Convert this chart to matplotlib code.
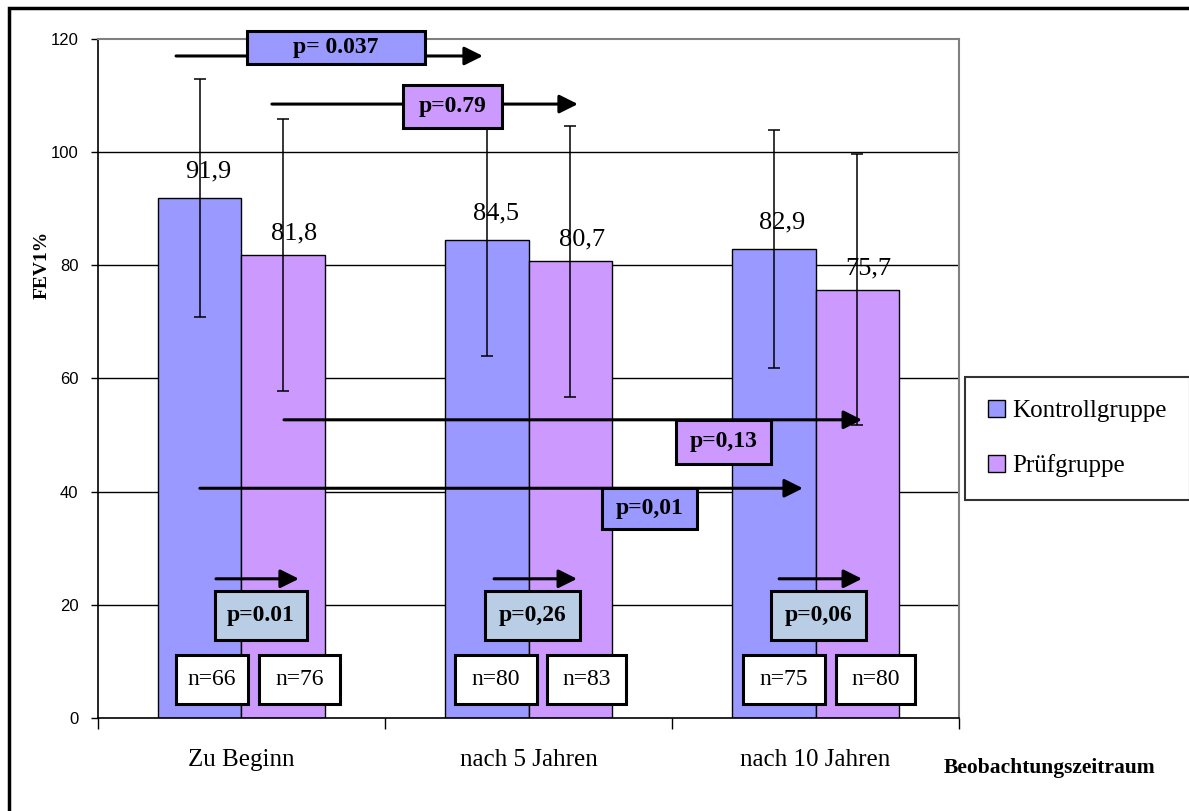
import numpy as np
import matplotlib
matplotlib.use("Agg")
import matplotlib.pyplot as plt
from matplotlib.patches import Rectangle, Patch

# ---------------- data ----------------
categories = ["Zu Beginn", "nach 5 Jahren", "nach 10 Jahren"]
kontroll = [91.9, 84.5, 82.9]
pruef = [81.8, 80.7, 75.7]
kontroll_sd = [21, 20.5, 21]
pruef_sd = [24, 24, 24]
kontroll_n = [66, 80, 75]
pruef_n = [76, 83, 80]
series_names = ["Kontrollgruppe", "Prüfgruppe"]

# p-values between groups at each time point
p_within = ["p=0.01", "p=0,26", "p=0,06"]
# p-values along the observation period
p_long = ["p= 0.037", "p=0.79", "p=0,13", "p=0,01"]

# ---------------- style ----------------
c_blue = "#9999FF"
c_purple = "#CC99FF"
c_grey = "#B9CDE5"
serif = "Liberation Serif"
plt.rcParams["font.family"] = serif

fig = plt.figure(figsize=(11.89, 8.11), dpi=100)
ax = fig.add_axes([0.0824, 0.1147, 0.7242, 0.8372])

x = np.arange(len(categories))
w = 0.29

# gridlines (not the top one, that is the grey frame)
for yv in [20, 40, 60, 80, 100]:
    ax.axhline(yv, color="black", lw=1.0, zorder=0)

ax.bar(x - w/2, kontroll, w, color=c_blue, edgecolor="black", lw=1, zorder=2)
ax.bar(x + w/2, pruef, w, color=c_purple, edgecolor="black", lw=1, zorder=2)
ax.errorbar(x - w/2, kontroll, yerr=kontroll_sd, fmt="none", ecolor="black",
            elinewidth=1.1, capsize=4, capthick=1.1, zorder=3)
ax.errorbar(x + w/2, pruef, yerr=pruef_sd, fmt="none", ecolor="black",
            elinewidth=1.1, capsize=4, capthick=1.1, zorder=3)

# value labels
for xi, v in zip(x - w/2, kontroll):
    ax.text(xi + 0.03, v + 4.7, f"{v:.1f}".replace(".", ","), ha="center",
            va="center", fontsize=19, zorder=4)
for xi, v in zip(x + w/2, pruef):
    ax.text(xi + 0.04, v + 3.8, f"{v:.1f}".replace(".", ","), ha="center",
            va="center", fontsize=19, zorder=4)


def arrow(x0, x1, y):
    ax.annotate("", xy=(x1, y), xytext=(x0, y),
                arrowprops=dict(arrowstyle="-|>", color="black", lw=2.2,
                                mutation_scale=28, shrinkA=0, shrinkB=0),
                annotation_clip=False, zorder=5)


def box(x0, x1, y0, y1, txt, fc, bold=True, fs=17):
    ax.add_patch(Rectangle((x0, y0), x1 - x0, y1 - y0, facecolor=fc,
                           edgecolor="black", lw=2.2, zorder=6, clip_on=False))
    ax.text((x0 + x1) / 2, (y0 + y1) / 2, txt, ha="center", va="center",
            fontsize=fs, fontweight="bold" if bold else "normal", zorder=7)


# long arrows over the observation period
long_arrow_x = [(-0.228, 0.841), (0.106, 1.172), (0.148, 2.162), (-0.145, 1.956)]
long_arrow_y = [117.0, 108.5, 52.7, 40.6]
long_box_x = [(0.019, 0.639), (0.563, 0.908), (1.514, 1.845), (1.256, 1.587)]
long_box_y = [(115.6, 121.4), (104.3, 111.9), (44.9, 52.7), (33.4, 40.6)]
long_colors = [c_blue, c_purple, c_purple, c_blue]
for (a0, a1), ay, (b0, b1), (y0, y1), t, c in zip(long_arrow_x, long_arrow_y,
                                                   long_box_x, long_box_y,
                                                   p_long, long_colors):
    arrow(a0, a1, ay)
    box(b0, b1, y0, y1, t, c)

# short arrows inside each time point
short_a0 = [-0.089, -0.12, -0.127]
short_a1 = [0.20, 0.169, 0.162]
short_b0 = [-0.092, -0.152, -0.155]
short_bw = [0.32, 0.331, 0.331]
for i, g in enumerate(x):
    arrow(g + short_a0[i], g + short_a1[i], 24.6)
    box(g + short_b0[i], g + short_b0[i] + short_bw[i], 13.8, 22.4,
        p_within[i], c_grey)

# n boxes
n_blue_x = [(-0.228, 0.023), (0.744, 1.030), (1.747, 2.033)]
n_purple_x = [(0.061, 0.343), (1.064, 1.340), (2.071, 2.347)]
for (b0, b1), n in zip(n_blue_x, kontroll_n):
    box(b0, b1, 2.5, 11.1, f"n={n}", "white", bold=False, fs=17)
for (b0, b1), n in zip(n_purple_x, pruef_n):
    box(b0, b1, 2.5, 11.1, f"n={n}", "white", bold=False, fs=17)

# axes
ax.set_xlim(-0.5, 2.5)
ax.set_ylim(0, 120)
ax.set_yticks([0, 20, 40, 60, 80, 100, 120])
ax.tick_params(axis="y", direction="out", length=5, width=1, pad=9,
               labelsize=12)
for lab in ax.get_yticklabels():
    lab.set_fontfamily("Liberation Sans")
ax.set_xticks([-0.5, 0.5, 1.5, 2.5])
ax.set_xticklabels([])
ax.tick_params(axis="x", direction="out", length=8, width=1)
ax.set_xticks(x, minor=True)
ax.set_xticklabels(categories, minor=True, fontsize=18)
ax.tick_params(axis="x", which="minor", length=0, pad=22)
for s in ["top", "right"]:
    ax.spines[s].set_color("#808080")
    ax.spines[s].set_linewidth(1.5)
for s in ["left", "bottom"]:
    ax.spines[s].set_color("black")
    ax.spines[s].set_linewidth(1.2)

fig.text(42/1189, 1 - 265/811, "FEV1%", rotation=90, ha="center", va="center",
         fontsize=14, fontweight="bold")
fig.text(1050/1189, 1 - 768/811, "Beobachtungszeitraum", ha="center",
         va="center", fontsize=15.5, fontweight="bold")

handles = [Patch(facecolor=c_blue, edgecolor="black", lw=1),
           Patch(facecolor=c_purple, edgecolor="black", lw=1)]
leg = fig.legend(handles, series_names, loc="center left",
                 bbox_to_anchor=(965/1189, 1 - 438.5/811), fontsize=18,
                 frameon=True, fancybox=False, borderaxespad=0,
                 handlelength=0.7, handleheight=0.7, handletextpad=0.3,
                 labelspacing=1.3, borderpad=0.9)
leg.get_frame().set_edgecolor("black")
leg.get_frame().set_linewidth(1.5)

# outer border of the chart
fig.add_artist(Rectangle((9/1189, -0.1), 1.2, 1 - 8/811 + 0.1,
                         transform=fig.transFigure, fill=False, lw=2.5,
                         ec="black"))

fig.savefig("out.png", dpi=100)
